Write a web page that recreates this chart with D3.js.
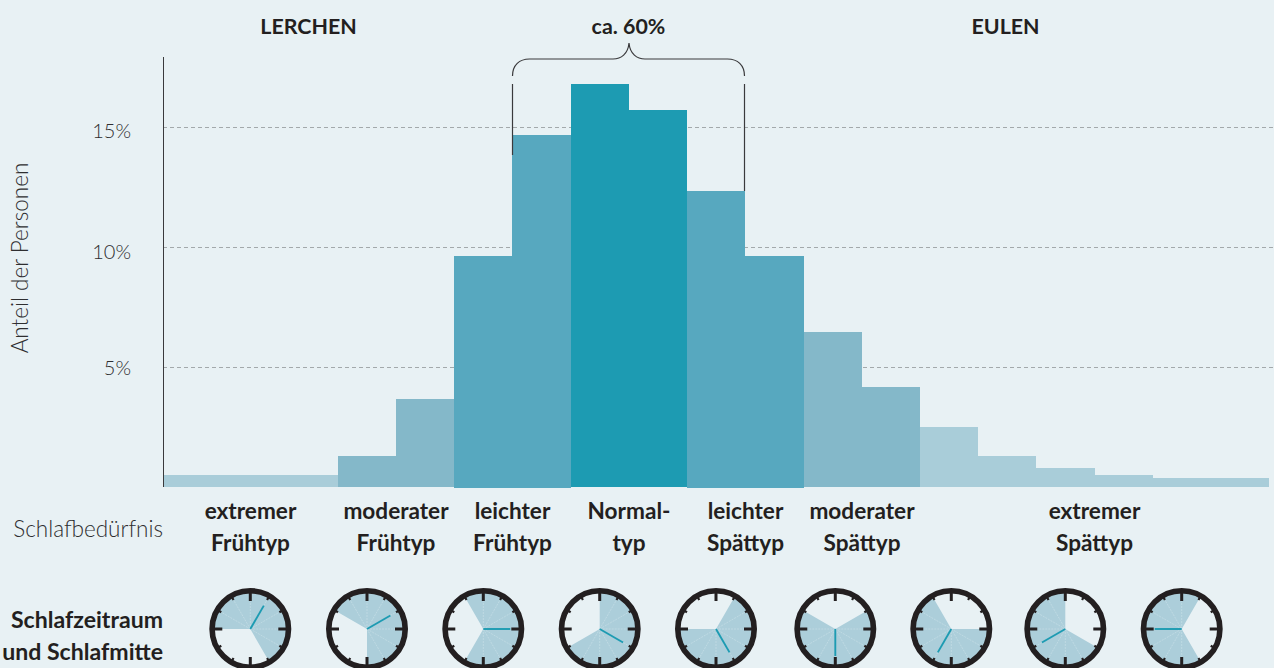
<!DOCTYPE html>
<html lang="de">
<head>
<meta charset="utf-8">
<script src="https://cdn.jsdelivr.net/npm/d3@7"></script>
<style>
html,body{margin:0;padding:0;background:#e8f1f4;overflow:hidden}
svg{display:block}
text{font-family:"Lato","Open Sans",sans-serif}
.b{font-weight:700;font-size:22.6px;fill:#231f20}
.s{font-weight:700;font-size:23.1px;fill:#231f20}
.h{font-weight:700;font-size:21.4px;fill:#231f20}
.l{font-weight:300;font-size:22.5px;fill:#2e2e30}
</style>
</head>
<body>
<svg id="c" width="1274" height="668"></svg>
<script>
const binValues = [0.48,0.48,0.48,1.27,3.65,9.6,14.66,16.79,15.7,12.33,9.6,6.45,4.15,2.5,1.27,0.77,0.48,0.35,0.35];
const binTone   = [3,3,3,2,2,1,1,0,0,1,1,2,2,3,3,3,3,3,3];
const toneColors = ["#1d9bb2","#57a8bf","#84b8c9","#a9cdd9"];
const yTicks = [5,10,15];
const groupLabels = [
  {from:0, to:3,  lines:["extremer","Frühtyp"]},
  {from:3, to:5,  lines:["moderater","Frühtyp"]},
  {from:5, to:7,  lines:["leichter","Frühtyp"]},
  {from:7, to:9,  lines:["Normal-","typ"]},
  {from:9, to:11, lines:["leichter","Spättyp"]},
  {from:11,to:13, lines:["moderater","Spättyp"]},
  {from:13,to:19, lines:["extremer","Spättyp"]}
];
const topLabels = [{t:"LERCHEN",from:0,to:5},{t:"ca. 60%",from:6,to:10},{t:"EULEN",from:10,to:18.95}];
const clockX = [250.3,367,483.3,599.7,716,835.3,951.3,1065.3,1181.7];
const midSleepAngles = [30,60,90,120,150,180,210,240,270];
const sleepSpan = 240;

const svg = d3.select("#c");
const ink = "#231f20";
const x = d3.scaleLinear().domain([0,19]).range([163,1269.4]).interpolate(d3.interpolateRound);
const y = d3.scaleLinear().domain([0,15]).range([486.5,127]).interpolate(d3.interpolateRound);
const rad = d => d*Math.PI/180;

// grid
svg.append("g").selectAll("line").data(yTicks).join("line")
  .attr("x1",163).attr("x2",1274)
  .attr("y1",d=>y(d)+.5).attr("y2",d=>y(d)+.5)
  .attr("stroke","#a3a9ab").attr("stroke-width",1).attr("stroke-dasharray","4 3");

// bars
svg.append("g").selectAll("rect").data(binValues).join("rect")
  .attr("x",(d,i)=>x(i)).attr("width",(d,i)=>x(i+1)-x(i))
  .attr("y",d=>y(d)).attr("height",(d,i)=>(binTone[i]===1?488:487)-y(d))
  .attr("fill",(d,i)=>toneColors[binTone[i]]);

// axis
const axis = d3.axisLeft(y).tickValues(yTicks).tickSize(0).tickFormat(d=>d+"%");
const ga = svg.append("g").attr("transform","translate(163,0)").call(axis);
ga.select(".domain").remove();
const tickShift = {5:0,10:4,15:3};
ga.selectAll("text").attr("class","l").attr("x",-32).attr("dy","0.35em")
  .attr("transform",d=>`translate(0,${tickShift[d]})`)
  .style("font-size","20px").style("font-family",'"Lato"').style("fill","#2e2e30");
svg.append("line").attr("x1",163.5).attr("x2",163.5).attr("y1",57).attr("y2",487).attr("stroke","#3a3a3c");
svg.append("text").attr("class","l").attr("text-anchor","middle")
  .attr("transform","translate(28,258) rotate(-90)").text("Anteil der Personen");

// bracket
const bx0 = x(6)+.5, bx1 = x(10)-.5, bm = x(8);
const bs = "#3a3a3c";
svg.append("path").attr("fill","none").attr("stroke",bs).attr("stroke-width",1.2)
  .attr("d",`M${bx0},76 C${bx0},65 ${bx0+7},59 ${bx0+17},59 L${bm-16},59 C${bm-8},59 ${bm-1},54 ${bm},43 C${bm+1},54 ${bm+8},59 ${bm+16},59 L${bx1-17},59 C${bx1-7},59 ${bx1},65 ${bx1},76`);
svg.append("line").attr("x1",bx0).attr("x2",bx0).attr("y1",84).attr("y2",155).attr("stroke",bs).attr("stroke-width",1.2);
svg.append("line").attr("x1",bx1).attr("x2",bx1).attr("y1",84).attr("y2",y(binValues[9])).attr("stroke",bs).attr("stroke-width",1.2);

// header
svg.append("g").selectAll("text").data(topLabels).join("text").attr("class","h")
  .attr("text-anchor","middle").attr("x",d=>(x(d.from)+x(d.to))/2).attr("y",34).text(d=>d.t);

// type labels
const gl = svg.append("g").selectAll("g").data(groupLabels).join("g");
gl.selectAll("text").data(d=>d.lines.map(t=>({t,cx:(x(d.from)+x(d.to))/2}))).join("text")
  .attr("class","b").attr("text-anchor","middle").attr("x",d=>d.cx)
  .attr("y",(d,i)=>518.5+i*32).text(d=>d.t);
svg.append("text").attr("class","l").attr("text-anchor","end").attr("x",163).attr("y",537).text("Schlafbedürfnis");
svg.append("text").attr("class","s").attr("text-anchor","end").attr("x",163).attr("y",628).text("Schlafzeitraum");
svg.append("text").attr("class","s").attr("text-anchor","end").attr("x",163).attr("y",660).text("und Schlafmitte");

// clocks
const cy = 629;
const arc = d3.arc().innerRadius(0).outerRadius(37);
const hourAngles = d3.range(12).map(i=>i*30);
const clocks = svg.append("g").selectAll("g").data(midSleepAngles).join("g")
  .attr("transform",(d,i)=>`translate(${clockX[i]},${cy})`);
clocks.append("path").attr("fill","#acceda")
  .attr("d",a=>arc({startAngle:rad(a-sleepSpan/2),endAngle:rad(a+sleepSpan/2)}));
clocks.each(function(a){
  const g = d3.select(this);
  const inside = hourAngles.filter(h=>{
    const diff = Math.abs(((h-a+540)%360)-180);
    return diff<sleepSpan/2;
  });
  g.selectAll("line.w").data(inside).join("line").attr("class","w")
    .attr("x2",h=>36*Math.sin(rad(h))).attr("y2",h=>-36*Math.cos(rad(h)))
    .attr("stroke","#c3dce5").attr("stroke-width",.8).attr("stroke-dasharray","2 1");
  g.selectAll("line.t").data(hourAngles).join("line").attr("class","t")
    .attr("x1",h=>(h%90===0?28:33.5)*Math.sin(rad(h))).attr("y1",h=>-(h%90===0?28:33.5)*Math.cos(rad(h)))
    .attr("x2",h=>37*Math.sin(rad(h))).attr("y2",h=>-37*Math.cos(rad(h)))
    .attr("stroke",ink).attr("stroke-width",h=>h%90===0?3:2.2);
});
clocks.append("circle").attr("r",38.2).attr("fill","none").attr("stroke",ink).attr("stroke-width",5.6);
clocks.append("line")
  .attr("x2",a=>27*Math.sin(rad(a))).attr("y2",a=>-27*Math.cos(rad(a)))
  .attr("stroke","#1d9bb2").attr("stroke-width",1.9);
</script>
</body>
</html>
